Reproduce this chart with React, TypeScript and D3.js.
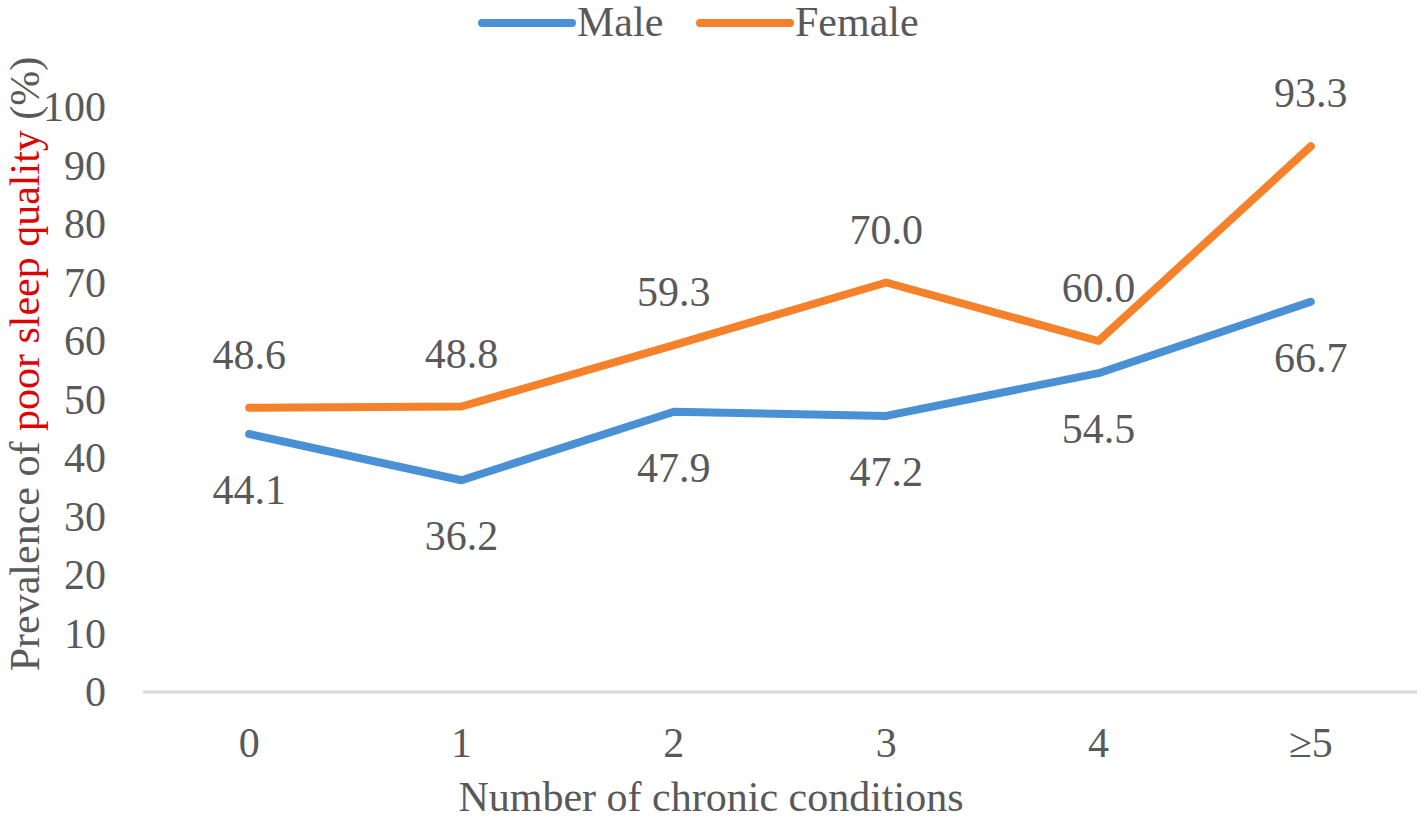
import React, { useEffect } from 'react';
import * as d3 from 'd3';

const categories = ['0', '1', '2', '3', '4', '≥5'];
const maleValues = [44.1, 36.2, 47.9, 47.2, 54.5, 66.7];
const femaleValues = [48.6, 48.8, 59.3, 70.0, 60.0, 93.3];
const yTicks = [0, 10, 20, 30, 40, 50, 60, 70, 80, 90, 100];

const WIDTH = 1421;
const HEIGHT = 821;
const FONT = 'Liberation Serif, Tinos, DejaVu Serif, serif';
const TEXT_COLOR = '#595959';
const MALE_COLOR = '#4a90d4';
const FEMALE_COLOR = '#f5812b';

const App: React.FC = () => {
  useEffect(() => {
    document.body.style.margin = '0';
  }, []);

  const margin = { top: 107, left: 143, right: 4 };
  const plotBottom = 692;

  const x = d3.scaleBand<string>()
    .domain(categories)
    .range([margin.left, WIDTH - margin.right]);

  const y = d3.scaleLinear()
    .domain([0, 100])
    .range([plotBottom, margin.top]);

  const cx = (c: string) => (x(c) ?? 0) + x.bandwidth() / 2;

  const line = d3.line<number>()
    .x((_, i) => cx(categories[i]))
    .y(d => y(d));

  const series = [
    { name: 'Male', values: maleValues, color: MALE_COLOR, labelDy: 70 },
    { name: 'Female', values: femaleValues, color: FEMALE_COLOR, labelDy: -39 },
  ];

  const legend = [
    { name: 'Male', color: MALE_COLOR, x: 482 },
    { name: 'Female', color: FEMALE_COLOR, x: 700 },
  ];

  return (
    <svg width={WIDTH} height={HEIGHT}
      style={{ display: 'block', background: '#fff', fontFamily: FONT, fontSize: 42 }}
      fill={TEXT_COLOR}>
      {/* x axis line */}
      <line x1={margin.left} x2={WIDTH - margin.right} y1={y(0)} y2={y(0)}
        stroke="#d9d9d9" strokeWidth={3} />

      {/* y tick labels */}
      {yTicks.map(t => (
        <text key={t} x={106} y={y(t)} dy="0.34em" textAnchor="end">{t}</text>
      ))}

      {/* x tick labels */}
      {categories.map(c => (
        <text key={c} x={cx(c)} y={757} textAnchor="middle">{c}</text>
      ))}

      {/* lines */}
      {series.map(s => (
        <path key={s.name} d={line(s.values) ?? ''} fill="none" stroke={s.color}
          strokeWidth={8} strokeLinejoin="round" strokeLinecap="round" />
      ))}

      {/* data labels */}
      {series.map(s => s.values.map((v, i) => (
        <text key={s.name + i} x={cx(categories[i])} y={y(v) + s.labelDy}
          textAnchor="middle">{v.toFixed(1)}</text>
      )))}

      {/* legend */}
      {legend.map(l => (
        <g key={l.name}>
          <line x1={l.x} x2={l.x + 90} y1={23} y2={23} stroke={l.color}
            strokeWidth={8} strokeLinecap="round" />
          <text x={l.x + 95} y={36}>{l.name}</text>
        </g>
      ))}

      {/* axis titles */}
      <text x={711} y={811} textAnchor="middle">
        Number of chronic conditions
      </text>
      <text transform="translate(39,364) rotate(-90)" textAnchor="middle">
        <tspan>Prevalence of </tspan>
        <tspan fill="#e00000">poor sleep quality</tspan>
        <tspan> (%)</tspan>
      </text>
    </svg>
  );
};

export default App;
